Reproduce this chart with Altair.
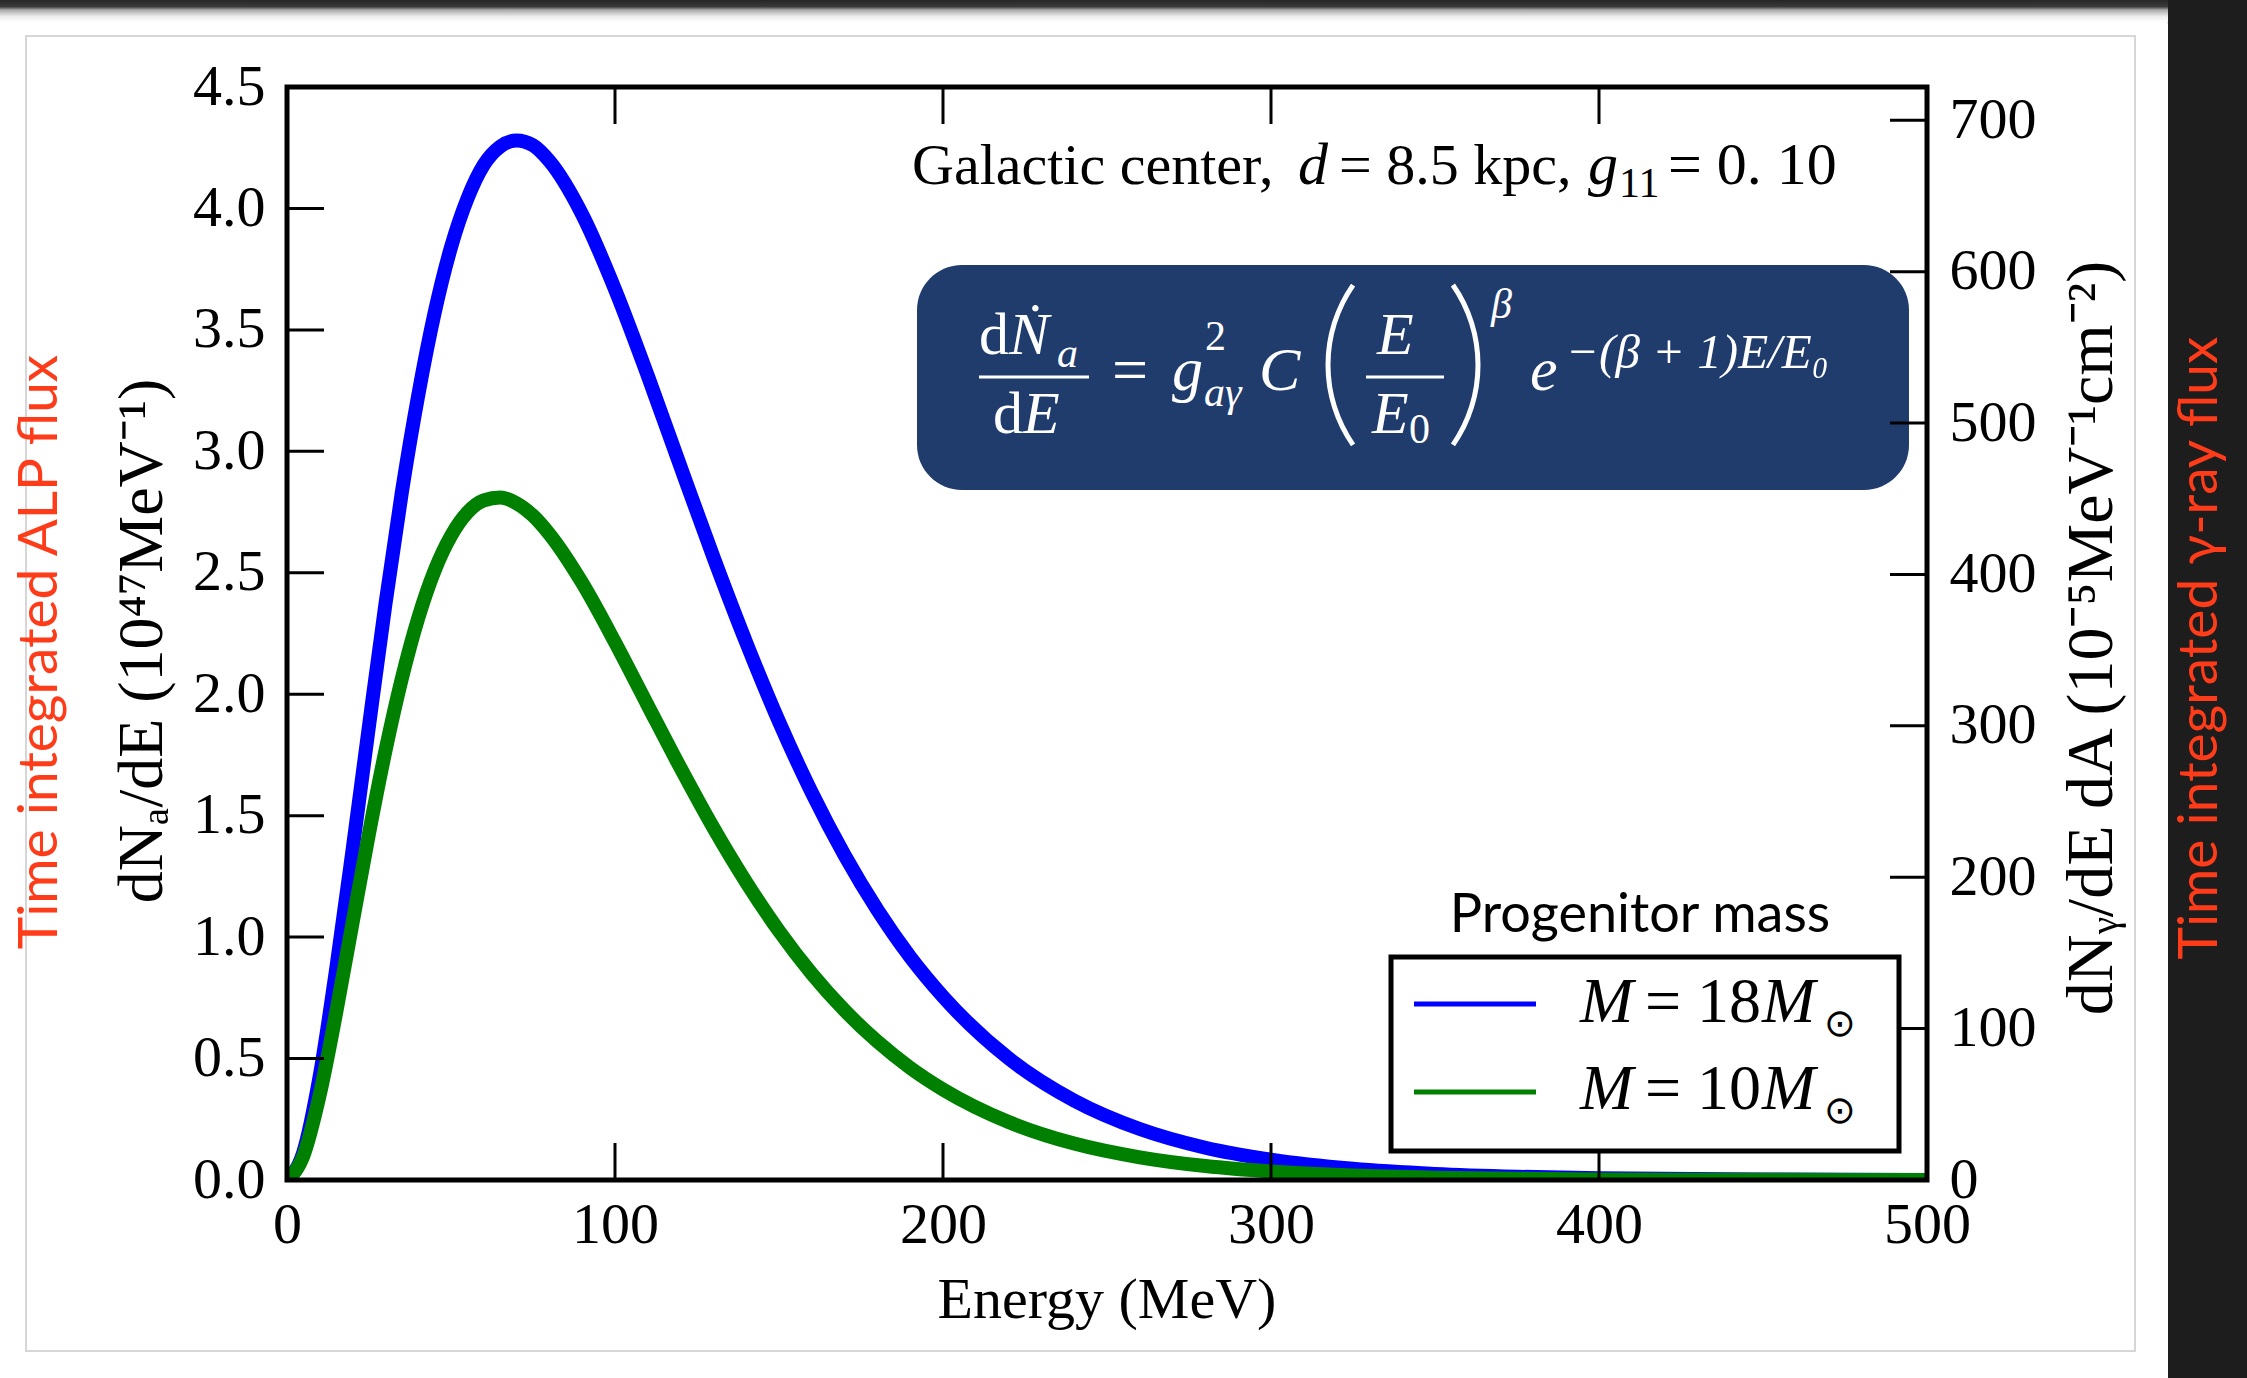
import altair as alt
import pandas as pd

# ---------------------------------------------------------------------------
# ALP spectra from a core-collapse supernova at the Galactic center
# ---------------------------------------------------------------------------
energy_mev = [0, 5, 10, 15, 20, 25, 30, 35, 40, 45, 50, 55, 60, 65, 70, 75, 80,
              90, 100, 110, 120, 130, 140, 150, 160, 170, 180, 190, 200, 220,
              240, 260, 280, 300, 325, 350, 375, 400, 450, 500]

# dN_a/dE in units of 1e47 MeV^-1, progenitor mass 18 M_sun
flux_18 = [0.0, 0.115, 0.43, 0.87, 1.36, 1.87, 2.37, 2.83, 3.23, 3.57, 3.84,
           4.04, 4.18, 4.255, 4.28, 4.26, 4.195, 3.975, 3.667, 3.311, 2.936,
           2.565, 2.213, 1.887, 1.595, 1.337, 1.112, 0.918, 0.755, 0.501,
           0.327, 0.21, 0.133, 0.084, 0.046, 0.025, 0.0135, 0.0072, 0.002,
           0.0005]

# dN_a/dE in units of 1e47 MeV^-1, progenitor mass 10 M_sun
flux_10 = [0.0, 0.10, 0.352, 0.69, 1.06, 1.427, 1.766, 2.064, 2.313, 2.509,
           2.652, 2.748, 2.798, 2.81, 2.786, 2.735, 2.659, 2.458, 2.214, 1.954,
           1.696, 1.45, 1.226, 1.025, 0.849, 0.698, 0.57, 0.462, 0.373, 0.239,
           0.15, 0.0934, 0.0573, 0.0348, 0.0184, 0.0096, 0.005, 0.0025,
           0.0007, 0.0002]

x_tick_values = [0, 100, 200, 300, 400, 500]
left_tick_values = [0.0, 0.5, 1.0, 1.5, 2.0, 2.5, 3.0, 3.5, 4.0, 4.5]
right_tick_values = [0, 100, 200, 300, 400, 500, 600, 700]
RIGHT_MAX = 722  # gamma-ray flux (1e-5 MeV^-1 cm^-2) at the top of the frame

# ---------------------------------------------------------------------------
# page geometry
# ---------------------------------------------------------------------------
PAGE_W, PAGE_H = 2247, 1378
LEFT, TOP = 287, 87
W, H = 1640, 1093
TICK = 37

SERIF = "Liberation Serif"
SANS = "Lato"
RED = "#ff3c1a"
NAVY = "#203c6d"

one = pd.DataFrame({"k": [0]})


def px(x):
    return alt.value(x - LEFT)


def py(y):
    return alt.value(y - TOP)


def label(text, x, y, size, italic=False, color="black", font=SERIF,
          align="left", baseline="alphabetic", angle=0, weight=None):
    kw = dict(text=text, font=font, fontSize=size, color=color,
              align=align, baseline=baseline)
    if italic:
        kw["fontStyle"] = "italic"
    if angle:
        kw["angle"] = angle
    if weight:
        kw["fontWeight"] = weight
    return alt.Chart(one).mark_text(**kw).encode(x=px(x), y=py(y))


def box(x1, y1, x2, y2, **mark):
    return alt.Chart(one).mark_rect(**mark).encode(
        x=px(x1), x2=px(x2), y=py(y1), y2=py(y2))


def hline(x1, x2, y, color, width):
    return alt.Chart(one).mark_rule(color=color, strokeWidth=width).encode(
        x=px(x1), x2=px(x2), y=py(y))


def paren(cx, cy, radius, start, end, color):
    # a large bracket drawn as a thin ring segment (angles in radians)
    return alt.Chart(one).mark_arc(
        color=color, radius=radius + 2.5, radius2=radius - 2.5,
        theta=start, theta2=end).encode(x=px(cx), y=py(cy))


# ---------------------------------------------------------------------------
# scales and axes
# ---------------------------------------------------------------------------
axis_style = dict(ticks=False, domain=False, grid=False, labelFont=SERIF,
                  labelFontSize=58, labelColor="black", labelFlush=False,
                  labelOverlap=False, zindex=1)

x_enc = alt.X("E:Q", title=None,
              scale=alt.Scale(domain=[0, 500], nice=False, zero=False),
              axis=alt.Axis(values=x_tick_values, format="d", labelPadding=16,
                            **axis_style))
y_enc = alt.Y("v:Q", title=None,
              scale=alt.Scale(domain=[0, 4.5], nice=False, zero=False),
              axis=alt.Axis(values=left_tick_values, format=".1f",
                            labelPadding=22, **axis_style))
r_enc = alt.Y("r:Q", title=None,
              scale=alt.Scale(domain=[0, RIGHT_MAX], nice=False, zero=False),
              axis=alt.Axis(orient="right", values=right_tick_values,
                            format="d", labelPadding=22, **axis_style))

# ---------------------------------------------------------------------------
# slide background
# ---------------------------------------------------------------------------
slide = box(0, 10, 2168, PAGE_H + 20, fill="white", cornerRadiusTopRight=14)
top_band = box(0, 0, 2168, 22, color={
    "gradient": "linear", "x1": 0, "y1": 0, "x2": 0, "y2": 1,
    "stops": [{"offset": 0, "color": "#262626"},
              {"offset": 0.3, "color": "#3a3a3a"},
              {"offset": 0.45, "color": "#a8a8a8"},
              {"offset": 0.75, "color": "#ececec"},
              {"offset": 1, "color": "#ffffff"}]})
panel_frame = box(26, 36, 2135, 1351, fillOpacity=0, stroke="#d6d6d6",
                  strokeWidth=2)

# ---------------------------------------------------------------------------
# spectra and frame
# ---------------------------------------------------------------------------
line_18 = alt.Chart(pd.DataFrame({"E": energy_mev, "v": flux_18})).mark_line(
    color="#0000ff", strokeWidth=14, clip=True, interpolate="monotone"
).encode(x=x_enc, y=y_enc)
line_10 = alt.Chart(pd.DataFrame({"E": energy_mev, "v": flux_10})).mark_line(
    color="#008000", strokeWidth=14, clip=True, interpolate="monotone"
).encode(x=x_enc, y=y_enc)

xt = pd.DataFrame({"E": x_tick_values})
ticks_bottom = alt.Chart(xt).mark_rule(color="black", strokeWidth=3).encode(
    x=x_enc, y=alt.value(H), y2=alt.value(H - TICK))
ticks_top = alt.Chart(xt).mark_rule(color="black", strokeWidth=3).encode(
    x=x_enc, y=alt.value(0), y2=alt.value(TICK))
ticks_left = alt.Chart(pd.DataFrame({"v": left_tick_values})).mark_rule(
    color="black", strokeWidth=3).encode(
    y=y_enc, x=alt.value(0), x2=alt.value(TICK))

frame = alt.Chart(one).mark_rect(fillOpacity=0, stroke="black",
                                 strokeWidth=5).encode(
    x=alt.value(0), x2=alt.value(W), y=alt.value(0), y2=alt.value(H))

# ---------------------------------------------------------------------------
# formula box
# ---------------------------------------------------------------------------
formula_box = box(917, 265, 1909, 490, fill=NAVY, cornerRadius=45)
WH = "white"
formula = [
    label("d", 979, 354, 60, color=WH),
    label("Ṅ", 1009, 354, 60, italic=True, color=WH),
    label("a", 1057, 367, 42, italic=True, color=WH),
    hline(979, 1089, 377, WH, 3),
    label("d", 993, 433, 60, color=WH),
    label("E", 1023, 433, 60, italic=True, color=WH),
    label("=", 1112, 391, 64, color=WH),
    label("g", 1172, 390, 62, italic=True, color=WH),
    label("2", 1205, 350, 42, color=WH),
    label("aγ", 1204, 406, 42, italic=True, color=WH),
    label("C", 1259, 390, 62, italic=True, color=WH),
    paren(1468, 365, 140, 4.105, 5.320, WH),
    label("E", 1377, 354, 60, italic=True, color=WH),
    hline(1366, 1444, 377, WH, 3),
    label("E", 1372, 433, 60, italic=True, color=WH),
    label("0", 1409, 443, 42, color=WH),
    paren(1338, 365, 140, 0.963, 2.178, WH),
    label("β", 1491, 318, 42, italic=True, color=WH),
    label("e", 1530, 390, 62, italic=True, color=WH),
    label("−(β + 1)E/E₀", 1566, 368, 49, italic=True, color=WH),
]

# ---------------------------------------------------------------------------
# in-plot annotation
# ---------------------------------------------------------------------------
heading = [
    label("Galactic center,", 912, 184, 58),
    label("d", 1298, 184, 60, italic=True),
    label("= 8.5 kpc,", 1339, 184, 58),
    label("g", 1588, 184, 60, italic=True),
    label("11", 1619, 197, 42),
    label("= 0. 10", 1668, 184, 60),
]

# ---------------------------------------------------------------------------
# axis titles
# ---------------------------------------------------------------------------
titles = [
    label("Energy (MeV)", 1107, 1301, 58, align="center", baseline="middle"),
    label("dNₐ/dE (10⁴⁷MeV⁻¹)", 143, 641, 64, align="center",
          baseline="middle", angle=270),
    label("dNᵧ/dE dA (10⁻⁵MeV⁻¹cm⁻²)", 2092, 638, 66, align="center",
          baseline="middle", angle=270),
    label("Time integrated ALP flux", 40, 652, 55, color=RED, font=SANS,
          align="center", baseline="middle", angle=270),
    label("Time integrated γ-ray flux", 2200, 648, 55, color=RED, font=SANS,
          align="center", baseline="middle", angle=270),
]

# ---------------------------------------------------------------------------
# legend
# ---------------------------------------------------------------------------
legend = [
    label("Progenitor mass", 1640, 932, 54, font=SANS, align="center"),
    box(1391, 957, 1899, 1151, fill="white", stroke="black", strokeWidth=5),
    hline(1414, 1536, 1004, "#0000ff", 5),
    hline(1414, 1536, 1092, "#008000", 5),
]
for base, mass in [(1022, "18"), (1109, "10")]:
    legend += [
        label("M", 1580, base, 64, italic=True),
        label("=", 1645, base, 64),
        label(mass, 1697, base, 64),
        label("M", 1762, base, 64, italic=True),
        label("⊙", 1824, base + 14, 38, font="DejaVu Sans"),
    ]

# ---------------------------------------------------------------------------
# right-hand gamma-ray axis
# ---------------------------------------------------------------------------
ticks_right = alt.Chart(pd.DataFrame({"r": right_tick_values})).mark_rule(
    color="black", strokeWidth=3).encode(
    y=r_enc, x=alt.value(W - TICK), x2=alt.value(W))

main = alt.layer(slide, top_band, panel_frame, formula_box, line_18, line_10,
                 ticks_bottom, ticks_top, ticks_left, frame,
                 *formula, *heading, *titles)

chart = alt.layer(main, ticks_right, *legend).resolve_scale(
    y="independent"
).properties(
    width=W, height=H,
    padding={"left": LEFT, "top": TOP, "right": PAGE_W - LEFT - W,
             "bottom": PAGE_H - TOP - H},
    autosize=alt.AutoSizeParams(type="none"),
    background="#1d1d1d",
).configure_view(stroke="transparent")

chart.save("out.html", embed_options={"renderer": "svg", "actions": False})
